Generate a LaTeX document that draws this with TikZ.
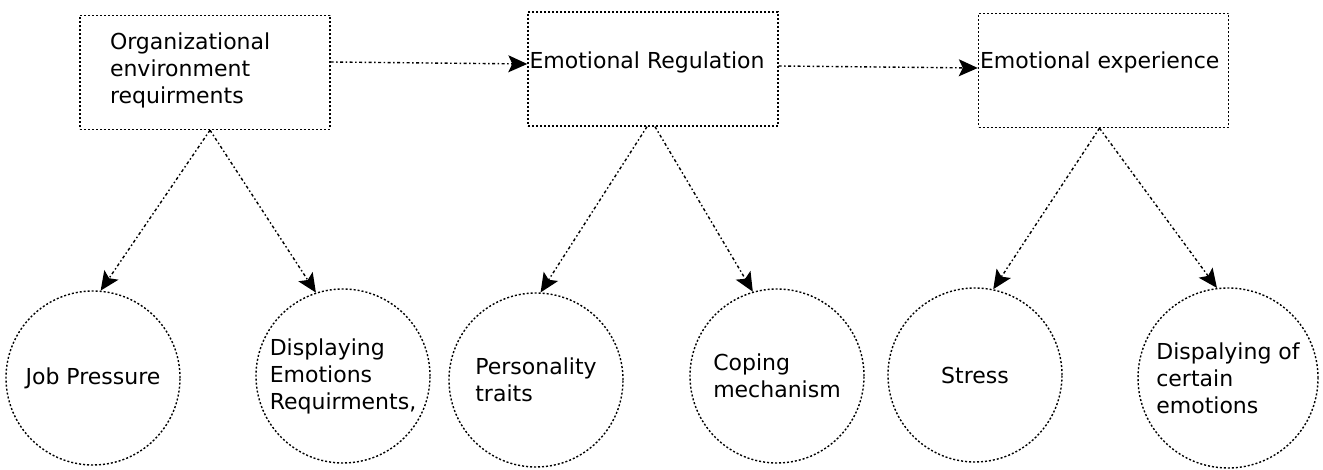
\documentclass[tikz,border=0pt]{standalone}
\usepackage{fontspec}
\setmainfont{DejaVu Sans}
\usetikzlibrary{arrows.meta}
\usetikzlibrary{positioning}

\begin{document}
\begin{tikzpicture}[x=1pt,y=1pt,
  box/.style={draw,dash pattern=on 2pt off 2pt,line width=1.4pt,minimum width=250pt,minimum height=114pt,inner sep=0pt},
  bubble/.style={draw,circle,dash pattern=on 2pt off 2pt,line width=1.4pt,minimum size=174pt,inner sep=0pt,align=left,font=\fontsize{22}{27}\selectfont},
  lbl/.style={font=\fontsize{22}{27}\selectfont,inner sep=0pt,align=left},
  link/.style={-{Stealth[length=19pt,width=17pt,inset=4pt]},line width=1.4pt,dash pattern=on 3pt off 2.5pt on 1.5pt off 2.5pt}]
\useasboundingbox (0,0) rectangle (1323,470);

\node[box] (org) at (205,397.5) {};
\node[lbl,text width=190pt] (orgtext) at (205,400) {Organizational\\environment\\requirments};
\node[box] (reg) at (653,401) {};
\node[lbl,anchor=west] (regtext) at ([xshift=2pt,yshift=7pt]reg.west) {Emotional Regulation};
\node[box] (exp) at (1103.5,399.5) {};
\node[lbl,anchor=west] (exptext) at ([xshift=2pt,yshift=8.5pt]exp.west) {Emotional experience};

\node[bubble] (jobp) at (93,92) {Job Pressure};
\node[bubble] (disp) at (343,94) {Displaying\\Emotions\\Requirments,};
\node[bubble] (pers) at (536,90) {Personality\\traits};
\node[bubble] (cope) at (777,94) {Coping\\mechanism};
\node[bubble] (stress) at (975,95) {Stress};
\node[bubble,minimum size=180pt] (certain) at (1228,92) {Dispalying of\\certain\\emotions};

\draw[link] ([yshift=10.5pt]org.east) -- ([yshift=5pt]reg.west);
\draw[link] ([yshift=3pt]reg.east) -- ([yshift=2.5pt]exp.west);

\draw[link] ([xshift=5pt]org.south) -- (jobp.85);
\draw[link] ([xshift=5pt]org.south) -- (disp.108);
\draw[link] ([xshift=-6pt]reg.south) -- (pers.87);
\draw[link] ([xshift=2pt]reg.south) -- (cope.106);
\draw[link] ([xshift=-4pt]exp.south) -- (stress.78);
\draw[link] ([xshift=-4pt]exp.south) -- (certain.97);

\end{tikzpicture}
\end{document}
